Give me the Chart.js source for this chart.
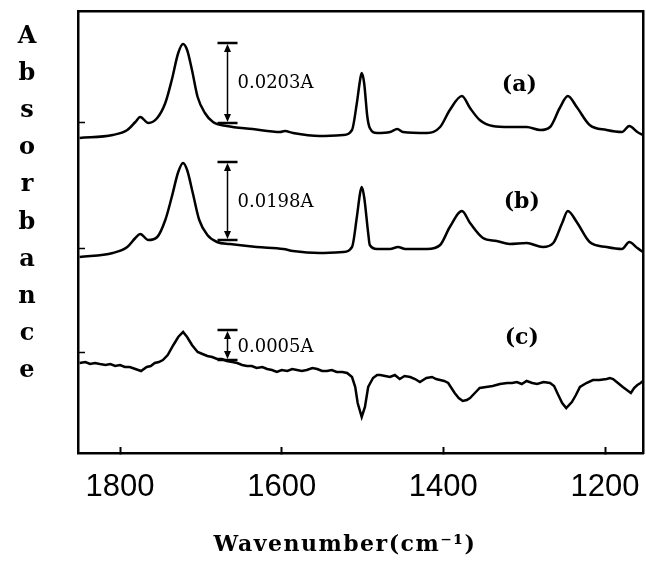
<!DOCTYPE html>
<html><head><meta charset="utf-8">
<script src="https://cdn.jsdelivr.net/npm/chart.js@4/dist/chart.umd.min.js"></script>
<style>html,body{margin:0;padding:0;background:#fff;}#wrap{position:relative;width:646px;height:567px;}</style>
</head><body><div id="wrap"><canvas id="chart" width="646" height="567"></canvas></div>
<script>
// ---- data (wavenumber in cm-1, absorbance in offset display units) ----
const waveA = [1850,1809,1791,1781,1775,1765,1754,1744,1736,1728,1722,1717,1711,1704,1695,1685,1668,1636,1602,1596,1586,1553,1524,1513,1507,1503,1501,1498,1494,1491,1482,1466,1457,1450,1420,1404,1392,1377,1367,1355,1339,1318,1297,1280,1268,1256,1246,1235,1219,1198,1179,1170,1160,1153];
const absA  = [315,318,323,331,336,330,335,350,373,400,409,403,383,356,340,331,327,324,321,322,320,317,318,323,350,373,380,370,336,325,320,321,324,321,320,326,343,357,345,333,327,326,326,323,326,345,357,346,328,323,321,327,321,318];

const waveB = [1850,1809,1791,1781,1775,1765,1754,1744,1736,1728,1722,1717,1710,1702,1692,1680,1664,1631,1598,1586,1553,1524,1513,1507,1503,1501,1498,1493,1491,1482,1466,1456,1447,1420,1404,1392,1377,1367,1351,1334,1318,1297,1277,1264,1253,1246,1235,1219,1198,1179,1170,1160,1153];
const absB  = [196,200,206,215,219,213,216,233,256,281,290,283,260,233,218,211,209,206,204,202,200,201,206,236,260,266,256,220,208,204,204,206,204,204,208,226,242,230,215,212,209,210,206,210,230,242,231,211,206,204,211,205,201];

const waveC = [1850,1843,1837,1831,1825,1818,1812,1806,1800,1794,1788,1781,1774,1767,1762,1757,1752,1747,1741,1734,1728,1722,1717,1711,1704,1698,1692,1686,1680,1674,1668,1661,1655,1649,1643,1637,1631,1624,1618,1612,1606,1600,1593,1587,1581,1575,1569,1562,1556,1550,1544,1538,1532,1525,1519,1513,1509,1506,1501,1497,1493,1487,1482,1478,1472,1466,1460,1454,1448,1441,1435,1429,1421,1414,1409,1404,1399,1394,1386,1381,1376,1371,1367,1361,1355,1347,1339,1330,1321,1315,1309,1303,1297,1290,1284,1276,1268,1263,1259,1253,1248,1241,1236,1231,1223,1215,1207,1198,1194,1190,1184,1178,1173,1168,1164,1160,1156,1153];
const absC  = [90,91,89,90,89,88,89,87,88,86,86,84,82,86,87,90,91,93,98,108,116,121,116,108,101,99,97,96,94,94,92,91,90,88,87,87,85,86,84,83,81,83,82,84,83,82,83,85,84,82,82,83,81,81,80,76,66,50,36,46,66,75,78,78,77,76,78,74,77,76,74,71,75,76,74,73,72,70,60,55,52,53,55,60,65,66,67,69,70,70,71,69,72,70,69,71,70,67,60,50,45,51,58,66,70,73,73,74,75,74,70,66,63,60,65,68,70,72];

const xTickValues = [1800, 1600, 1400, 1200];
const yTickValues = [331, 205, 101];

const seriesNames = ['(a)', '(b)', '(c)'];
const seriesNameWave = [1306, 1303, 1303];
const seriesNameAbs = [368, 251, 115];

const barWave = [1668, 1668, 1668];
const barTop = [410, 291, 123];
const barBottom = [330, 213, 93];
const barLabels = ['0.0203A', '0.0198A', '0.0005A'];
const barLabelAbs = [370, 251, 106];

const yTitle = 'Absorbance';
const xTitle = 'Wavenumber(cm\u207B\u00B9)';

// ---- build ----
function pts(w, a) { return w.map((v, i) => ({x: v, y: a[i]})); }

const annot = {
  id: 'annot',
  afterDraw(chart) {
    const {ctx, scales: {x, y}} = chart;
    ctx.save();
    ctx.strokeStyle = '#000'; ctx.fillStyle = '#000';
    for (let i = 0; i < barWave.length; i++) {
      const px = Math.round(x.getPixelForValue(barWave[i])) + 0.5;
      const t = y.getPixelForValue(barTop[i]);
      const b = y.getPixelForValue(barBottom[i]);
      ctx.lineWidth = 2.5;
      ctx.beginPath();
      ctx.moveTo(px - 10, t); ctx.lineTo(px + 10, t);
      ctx.moveTo(px - 10, b); ctx.lineTo(px + 10, b);
      ctx.stroke();
      ctx.lineWidth = 1.5;
      ctx.beginPath(); ctx.moveTo(px, t + 4); ctx.lineTo(px, b - 4); ctx.stroke();
      const ah = Math.min(9, (b - t) / 3);
      ctx.beginPath();
      ctx.moveTo(px, t + 1); ctx.lineTo(px - 3.5, t + ah); ctx.lineTo(px + 3.5, t + ah); ctx.closePath();
      ctx.moveTo(px, b - 1); ctx.lineTo(px - 3.5, b - ah); ctx.lineTo(px + 3.5, b - ah); ctx.closePath();
      ctx.fill();
      ctx.font = '18px "DejaVu Serif"';
      ctx.textAlign = 'left'; ctx.textBaseline = 'middle';
      ctx.fillText(barLabels[i], px + 10, y.getPixelForValue(barLabelAbs[i]));
    }
    ctx.font = 'bold 22px "DejaVu Serif"';
    ctx.textAlign = 'center'; ctx.textBaseline = 'middle';
    for (let i = 0; i < seriesNames.length; i++) {
      ctx.fillText(seriesNames[i], x.getPixelForValue(seriesNameWave[i]), y.getPixelForValue(seriesNameAbs[i]));
    }
    // stacked y title
    ctx.font = 'bold 24px "DejaVu Serif"';
    ctx.textAlign = 'center'; ctx.textBaseline = 'alphabetic';
    const letters = yTitle.split('');
    letters.forEach((ch, i) => ctx.fillText(ch, 27, 43 + i * 37.1));
    // x title
    ctx.font = 'bold 22px "DejaVu Serif"';
    if ('letterSpacing' in ctx) ctx.letterSpacing = '1.5px';
    ctx.textAlign = 'center'; ctx.textBaseline = 'alphabetic';
    ctx.fillText(xTitle, 345, 551);
    ctx.restore();
  }
};

new Chart(document.getElementById('chart'), {
  type: 'line',
  data: {
    datasets: [
      {label: seriesNames[0], data: pts(waveA, absA), cubicInterpolationMode: 'monotone'},
      {label: seriesNames[1], data: pts(waveB, absB), cubicInterpolationMode: 'monotone'},
      {label: seriesNames[2], data: pts(waveC, absC), tension: 0}
    ].map(d => Object.assign(d, {borderColor: '#000', borderWidth: 2.5, pointRadius: 0, fill: false}))
  },
  options: {
    responsive: false, animation: false, devicePixelRatio: 1,
    layout: {padding: 0},
    plugins: {legend: {display: false}, tooltip: {enabled: false}},
    scales: {
      x: {
        type: 'linear', position: 'bottom', min: 1153, max: 1852, reverse: true,
        afterBuildTicks: s => { s.ticks = xTickValues.map(v => ({value: v})); },
        afterFit: s => { s.height = 114; s.paddingLeft = 0; s.paddingRight = 0; },
        ticks: {color: '#000', font: {family: '"Liberation Sans"', size: 31}, padding: 22, maxRotation: 0, autoSkip: false,
                callback: v => String(v)},
        grid: {drawOnChartArea: false, tickLength: -6, tickWidth: 2, color: '#000'},
        border: {color: '#000', width: 2.5}
      },
      x2: {
        type: 'linear', position: 'top', min: 1153, max: 1852, reverse: true,
        afterFit: s => { s.height = 11; s.paddingLeft = 0; s.paddingRight = 0; },
        ticks: {display: false},
        grid: {display: false},
        border: {color: '#000', width: 2.5}
      },
      y: {
        type: 'linear', position: 'left', min: 0, max: 442,
        afterBuildTicks: s => { s.ticks = yTickValues.map(v => ({value: v})); },
        afterFit: s => { s.width = 78; s.paddingTop = 0; s.paddingBottom = 0; },
        ticks: {display: false},
        grid: {drawOnChartArea: false, tickLength: -7, tickWidth: 1.5, color: '#000'},
        border: {color: '#000', width: 2.5}
      },
      y2: {
        type: 'linear', position: 'right', min: 0, max: 442,
        afterFit: s => { s.width = 3; s.paddingTop = 0; s.paddingBottom = 0; },
        ticks: {display: false},
        grid: {display: false},
        border: {color: '#000', width: 2.5}
      }
    }
  },
  plugins: [annot]
});
</script>
</body></html>
